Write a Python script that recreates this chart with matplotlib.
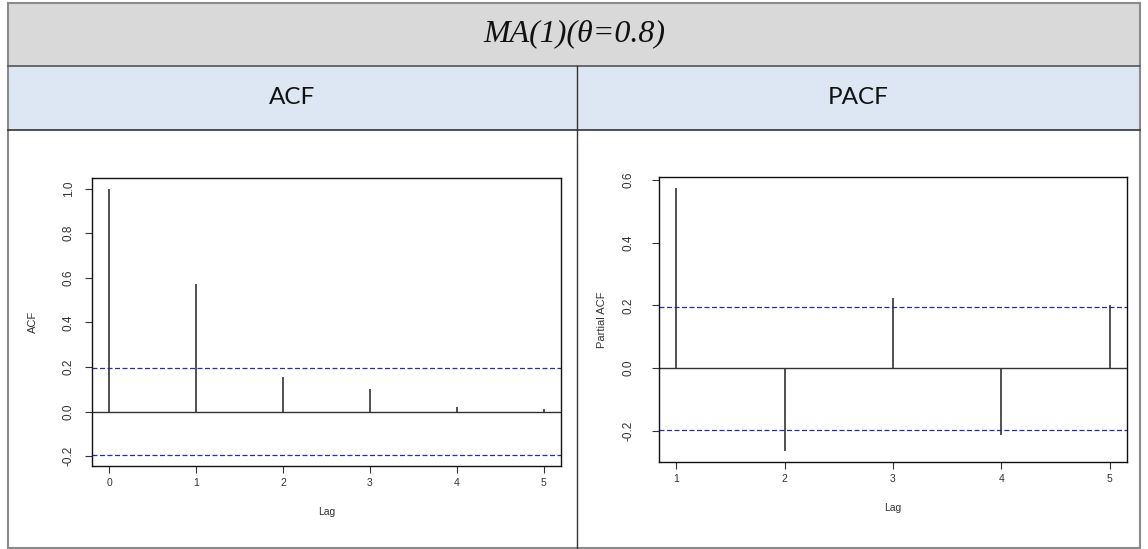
import matplotlib
matplotlib.use("Agg")
import matplotlib.pyplot as plt
from matplotlib.patches import Rectangle
from matplotlib.lines import Line2D

# valores de la serie MA(1) con theta = 0.8 (n = 100)
titulo = "MA(1)(θ=0.8)"
encabezados = ["ACF", "PACF"]

acf_lags = [0, 1, 2, 3, 4, 5]
acf_vals = [1.0, 0.573, 0.155, 0.102, 0.022, 0.010]

pacf_lags = [1, 2, 3, 4, 5]
pacf_vals = [0.575, -0.265, 0.225, -0.214, 0.200]

n_obs = 100
ci = 1.96 / n_obs ** 0.5

acf_yticks = [-0.2, 0.0, 0.2, 0.4, 0.6, 0.8, 1.0]
pacf_yticks = [-0.2, 0.0, 0.2, 0.4, 0.6]

W, H = 1148, 549
fig = plt.figure(figsize=(W / 100, H / 100), dpi=100)
fig.patch.set_facecolor("white")


def px(x0, y0, x1, y1):
    # rectangulo en pixeles (desde arriba) -> coordenadas de figura
    return [x0 / W, 1 - y1 / H, (x1 - x0) / W, (y1 - y0) / H]


def fx(x):
    return x / W


def fy(y):
    return 1 - y / H


# la tabla de fondo
l, r, t, b = 8, 1140, 3, 548
fig.patches.append(Rectangle((fx(l), fy(66)), fx(r) - fx(l), fy(t) - fy(66),
                             transform=fig.transFigure, facecolor="#d9d9d9",
                             edgecolor="none", zorder=0))
fig.patches.append(Rectangle((fx(l), fy(130)), fx(r) - fx(l), fy(66) - fy(130),
                             transform=fig.transFigure, facecolor="#dde7f3",
                             edgecolor="none", zorder=0))
borde = dict(transform=fig.transFigure, zorder=1)
fig.lines.append(Line2D([fx(l), fx(r)], [fy(t), fy(t)], color="#8a8a8a", lw=1.5, **borde))
fig.lines.append(Line2D([fx(l), fx(r)], [fy(b), fy(b)], color="#8a8a8a", lw=1.5, **borde))
fig.lines.append(Line2D([fx(l), fx(l)], [fy(t), fy(b)], color="#8a8a8a", lw=1.5, **borde))
fig.lines.append(Line2D([fx(r), fx(r)], [fy(t), fy(b)], color="#8a8a8a", lw=1.5, **borde))
fig.lines.append(Line2D([fx(l), fx(r)], [fy(66), fy(66)], color="#555555", lw=1.2, **borde))
fig.lines.append(Line2D([fx(l), fx(r)], [fy(130), fy(130)], color="#333333", lw=1.2, **borde))
fig.lines.append(Line2D([fx(577), fx(577)], [fy(66), fy(b)], color="#333333", lw=1.0, **borde))

fig.text(fx(574), fy(34), titulo, ha="center", va="center", fontsize=23,
         family="Liberation Serif", style="italic", color="#111111")
fig.text(fx(292), fy(98), encabezados[0], ha="center", va="center",
         fontsize=17.5, family="Lato", color="#111111")
fig.text(fx(858), fy(98), encabezados[1], ha="center", va="center",
         fontsize=17.5, family="Lato", color="#111111")


def panel(ax, lags, vals, yticks, ylabel, ypad):
    ax.vlines(lags, 0, vals, color="#222222", lw=1.1)
    ax.axhline(0, color="#333333", lw=1.0)
    ax.axhline(ci, color="#2a2aa8", lw=0.9, ls=(0, (4, 2)))
    ax.axhline(-ci, color="#2a2aa8", lw=0.9, ls=(0, (4, 2)))

    # rango al estilo R: 4% extra en cada lado
    xr = max(lags) - min(lags)
    ax.set_xlim(min(lags) - 0.04 * xr, max(lags) + 0.04 * xr)
    lo = min(min(vals), -ci)
    hi = max(max(vals), ci)
    yr = hi - lo
    ax.set_ylim(lo - 0.04 * yr, hi + 0.04 * yr)

    ax.set_xticks(lags)
    ax.set_yticks(yticks)
    ax.set_yticklabels([f"{v:.1f}" for v in yticks])
    for s in ax.spines.values():
        s.set_color("#111111")
        s.set_linewidth(1.0)
    ax.tick_params(axis="both", direction="out", length=5, width=0.8,
                   color="#333333", labelcolor="#333333")
    ax.tick_params(axis="x", pad=3.5, labelsize=7.5)
    ax.tick_params(axis="y", pad=ypad, labelrotation=90, labelsize=8.5)
    for lab in ax.get_yticklabels():
        lab.set_va("center")
        lab.set_family("Liberation Sans")
    for lab in ax.get_xticklabels():
        lab.set_family("Liberation Sans")

    ax.set_xlabel("Lag", fontsize=7.5, color="#333333", family="Liberation Sans")
    ax.set_ylabel(ylabel, fontsize=8, color="#333333", va="center",
                  family="Liberation Sans")


ax1 = fig.add_axes(px(92, 178, 561, 466))
panel(ax1, acf_lags, acf_vals, acf_yticks, "ACF", 7.5)
ax1.xaxis.set_label_coords(0.5, -(507 - 466) / 288)
ax1.yaxis.set_label_coords((33 - 92) / 469, 0.5)

ax2 = fig.add_axes(px(659, 177, 1127, 462))
panel(ax2, pacf_lags, pacf_vals, pacf_yticks, "Partial ACF", 12.5)
ax2.xaxis.set_label_coords(0.5, -(503 - 462) / 285)
ax2.yaxis.set_label_coords((602 - 659) / 468, 0.5)

fig.savefig("out.png", dpi=100)
